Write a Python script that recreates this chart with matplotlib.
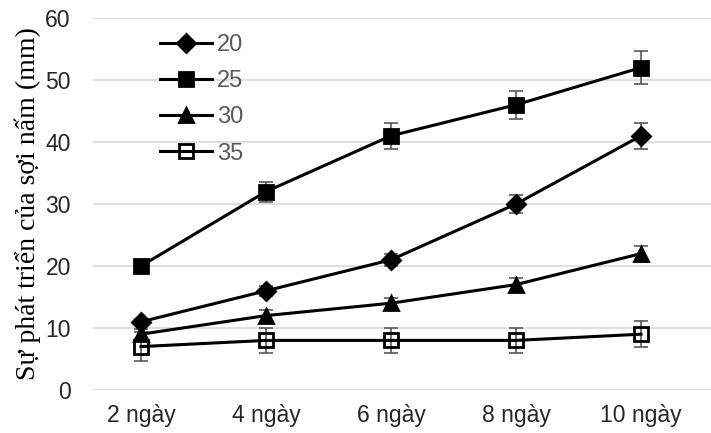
import numpy as np
import matplotlib.pyplot as plt

days = ['2 ngày', '4 ngày', '6 ngày', '8 ngày', '10 ngày']
labels = ['20', '25', '30', '35']
v20 = [11, 16, 21, 30, 41]
v25 = [20, 32, 41, 46, 52]
v30 = [9, 12, 14, 17, 22]
v35 = [7, 8, 8, 8, 9]
e20 = [0.5, 0.8, 1.0, 1.5, 2.1]
e25 = [0.0, 1.6, 2.1, 2.3, 2.6]
e30 = [0.8, 0.9, 0.8, 1.1, 1.3]
e35 = [2.3, 2.0, 2.0, 2.0, 2.1]

fig = plt.figure(figsize=(7.11, 4.33), dpi=100)
ax = fig.add_axes([93 / 711, 43 / 433, 618 / 711, 372 / 433])

x = np.arange(len(days))
series = [(v20, e20, 'D', 'black', 9),
          (v25, e25, 's', 'black', 10),
          (v30, e30, '^', 'black', 10),
          (v35, e35, 's', 'none', 10)]

for (vals, errs, mk, fc, ms), lab in zip(series, labels):
    ax.errorbar(x, vals, yerr=errs, fmt='none', ecolor='#595959',
                elinewidth=1.2, capsize=5, capthick=1.2, zorder=2)
    ax.plot(x, vals, color='black', lw=2.2, marker=mk, ms=ms,
            mfc=fc, mec='black', mew=2, label=lab, zorder=3)

ax.set_xlim(-0.384, 4.56)
ax.set_ylim(0, 60)
ax.set_yticks(range(0, 61, 10))
ax.set_xticks(x)
ax.set_xticklabels(days)
ax.grid(axis='y', color='#d9d9d9', lw=1.2)
ax.set_axisbelow(True)
for s in ax.spines.values():
    s.set_visible(False)
ax.tick_params(length=0, labelsize=16.5, labelcolor='#262626')
for t in ax.get_xticklabels() + ax.get_yticklabels():
    t.set_fontfamily('Liberation Sans')
ax.tick_params(axis='x', pad=10)
ax.tick_params(axis='y', pad=16)

ax.set_ylabel('Sự phát triển của sợi nấm (mm)', fontsize=20,
              fontfamily='Liberation Serif', labelpad=3)

leg = ax.legend(loc='upper left', bbox_to_anchor=(160 / 711, 1 - 34 / 433),
                bbox_transform=fig.transFigure, frameon=False,
                prop={'family': 'Liberation Sans', 'size': 17},
                handlelength=2.2, handletextpad=0.2, labelspacing=0.6,
                borderpad=0, borderaxespad=0)
for t in leg.get_texts():
    t.set_color('#595959')

fig.savefig('out.png', dpi=100)
